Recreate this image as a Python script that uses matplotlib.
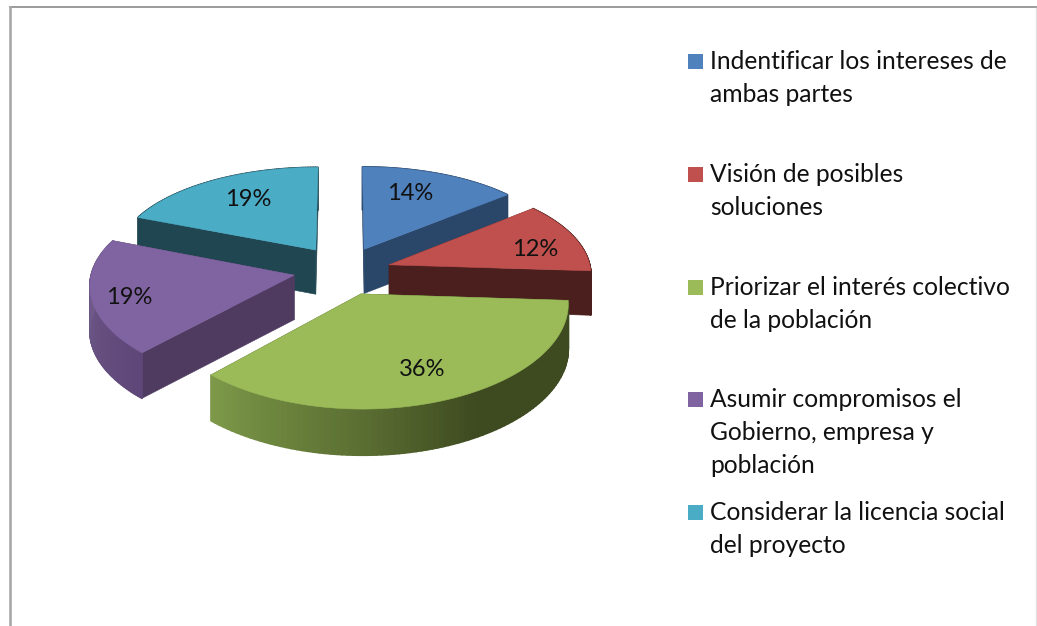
import numpy as np
import matplotlib
matplotlib.use("Agg")
import matplotlib.pyplot as plt
from matplotlib.collections import PolyCollection
from matplotlib.colors import to_rgb

categories = ["Indentificar los intereses de\nambas partes",
              "Visión de posibles\nsoluciones",
              "Priorizar el interés colectivo\nde la población",
              "Asumir compromisos el\nGobierno, empresa y\npoblación",
              "Considerar la licencia social\ndel proyecto"]
values = [14, 12, 36, 19, 19]
labels = ["14%", "12%", "36%", "19%", "19%"]
top_colors = ["#4F81BD", "#C0504D", "#9BBB59", "#8064A2", "#4BACC6"]
face_colors = ["#2A4669", "#4B1F1E", "#3F4C21", "#4F3B60", "#1F4651"]
rim_stops = [
    ([0, 360], ["#2A4669", "#2A4669"]),
    ([0, 360], ["#4B1F1E", "#4B1F1E"]),
    ([90, 150, 182, 226], ["#3E4A20", "#3E4A20", "#5C7033", "#7F9C4A"]),
    ([223, 292], ["#5E4778", "#75608F"]),
    ([0, 360], ["#1F4651", "#1F4651"]),
]
slice_nudge = [(1, 1), (0, 3), (0, 2.5), (0, 1), (0.5, 0)]
draw_order = [4, 0, 1, 3, 2]
label_xy = [(410, 194), (535, 249), (422, 370), (129, 297), (248, 200)]
legend_y = [61, 174, 287, 399, 512]
line_counts = [2, 2, 2, 3, 2]

CX, CY, AX_X, AX_Y, K, KX, KZ, EXPL, DEPTH = 342.5, 269, 202, 96.3, 0.115, 0.09, 0.03, 0.244, 44.5
FONT = "Lato"


def project(X, Y, z=0.0):
    return (CX + AX_X * X / (1.0 + KX * Y),
            CY - AX_Y * Y / (1.0 + K * Y) + DEPTH * z / (1.0 + KZ * Y))


fig = plt.figure(figsize=(10.37, 6.26), dpi=100)
ax = fig.add_axes([0, 0, 1, 1])
ax.set_xlim(0, 1037)
ax.set_ylim(626, 0)
ax.axis("off")

# frame
ax.plot([9.5, 1037], [7.3, 7.3], color="#8A8A8A", lw=1.2, zorder=1)
ax.plot([9.5, 9.5], [7, 626], color="#A8A8A8", lw=1.9, zorder=1)
ax.plot([1036, 1036], [8, 626], color="#E2E2E2", lw=1.0, zorder=1)

frac = np.cumsum([0] + values) / sum(values) * 360.0
z = 2
for i in draw_order:
    a0, a1 = frac[i], frac[i + 1]
    mid = np.radians((a0 + a1) / 2)
    ox, oy = EXPL * np.sin(mid), EXPL * np.cos(mid)
    nx, ny = slice_nudge[i]
    deg = np.linspace(a0, a1, 90)
    t = np.radians(deg)
    X, Y = ox + np.sin(t), oy + np.cos(t)
    tx, ty = project(X, Y)
    bx, by = project(X, Y, 1.0)
    axp, ayp = project(ox, oy)
    abx, aby = project(ox, oy, 1.0)
    tx, bx, axp, abx = tx + nx, bx + nx, axp + nx, abx + nx
    ty, by, ayp, aby = ty + ny, by + ny, ayp + ny, aby + ny

    # cut faces
    for k in (0, -1):
        ax.fill([axp, tx[k], bx[k], abx], [ayp, ty[k], by[k], aby],
                color=face_colors[i], lw=0.4, zorder=z)
    # outer rim
    stops, cols = rim_stops[i]
    rgb = np.array([to_rgb(c) for c in cols])
    mids = (deg[:-1] + deg[1:]) / 2
    seg_col = np.column_stack([np.interp(mids, stops, rgb[:, c]) for c in range(3)])
    quads = [[(tx[j], ty[j]), (tx[j + 1], ty[j + 1]), (bx[j + 1], by[j + 1]), (bx[j], by[j])]
             for j in range(len(mids))]
    ax.add_collection(PolyCollection(quads, facecolors=seg_col, edgecolors=seg_col, lw=1.2, zorder=z + 0.1))
    # top
    ax.fill(np.r_[axp, tx], np.r_[ayp, ty], color=top_colors[i], lw=0.4, zorder=z + 0.2)
    z += 1

for (x, y), s in zip(label_xy, labels):
    ax.text(x, y, s, ha="center", va="center", fontsize=17, family=FONT, color="#111111", zorder=20)

for c, name, y, n in zip(top_colors, categories, legend_y, line_counts):
    ax.fill_between([688, 703], y - 7.5, y + 7.5, color=c, lw=0, zorder=20)
    ax.text(710, y + 1 + (n - 1) * 32.5 / 2, name, ha="left", va="center", fontsize=17.7, family=FONT,
            color="#111111", linespacing=1.51, zorder=20)

fig.savefig("out.png", dpi=100)
